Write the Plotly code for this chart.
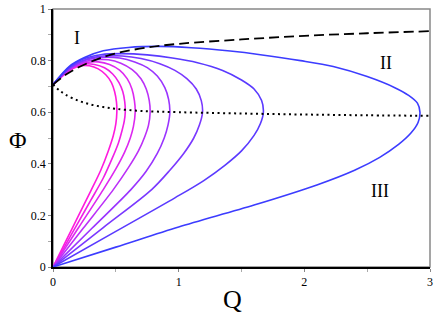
import plotly.graph_objects as go

# Q / Phi data, one list pair per curve
# each curve: lower branch from origin, turn near the dotted line, upper branch back to (0, 0.707)
q_1 = [0, 0.1, 0.2, 0.3, 0.38, 0.44, 0.48, 0.5, 0.508, 0.505, 0.49, 0.465, 0.42, 0.36, 0.29, 0.22, 0.15, 0.08, 0]
phi_1 = [0, 0.098, 0.196, 0.294, 0.375, 0.45, 0.51, 0.555, 0.60, 0.64, 0.68, 0.715, 0.745, 0.768, 0.78, 0.78, 0.767, 0.742, 0.707]

q_2 = [0, 0.1, 0.2, 0.3, 0.4, 0.47, 0.52, 0.55, 0.567, 0.575, 0.571, 0.555, 0.525, 0.475, 0.41, 0.33, 0.25, 0.17, 0.09, 0]
phi_2 = [0, 0.086, 0.172, 0.258, 0.345, 0.42, 0.48, 0.53, 0.565, 0.60, 0.64, 0.68, 0.715, 0.748, 0.772, 0.785, 0.787, 0.775, 0.748, 0.707]

q_3 = [0, 0.2, 0.4, 0.5, 0.57, 0.615, 0.64, 0.654, 0.648, 0.628, 0.59, 0.53, 0.45, 0.36, 0.27, 0.18, 0.09, 0]
phi_3 = [0, 0.15, 0.30, 0.38, 0.445, 0.5, 0.545, 0.60, 0.645, 0.69, 0.73, 0.763, 0.785, 0.795, 0.793, 0.78, 0.75, 0.707]

q_4 = [0, 0.24, 0.48, 0.6, 0.68, 0.73, 0.76, 0.773, 0.766, 0.742, 0.7, 0.63, 0.54, 0.44, 0.33, 0.22, 0.11, 0]
phi_4 = [0, 0.15, 0.30, 0.385, 0.45, 0.505, 0.55, 0.60, 0.645, 0.69, 0.73, 0.765, 0.79, 0.803, 0.803, 0.79, 0.76, 0.707]

q_5 = [0, 0.31, 0.62, 0.74, 0.83, 0.885, 0.915, 0.93, 0.92, 0.89, 0.83, 0.75, 0.65, 0.53, 0.4, 0.27, 0.14, 0]
phi_5 = [0, 0.15, 0.30, 0.37, 0.44, 0.5, 0.55, 0.60, 0.65, 0.695, 0.74, 0.773, 0.795, 0.81, 0.813, 0.803, 0.772, 0.707]

q_6 = [0, 0.4, 0.785, 0.93, 1.04, 1.12, 1.165, 1.19, 1.18, 1.14, 1.065, 0.97, 0.85, 0.7, 0.55, 0.4, 0.27, 0.14, 0]
phi_6 = [0, 0.153, 0.30, 0.375, 0.44, 0.5, 0.55, 0.60, 0.645, 0.69, 0.73, 0.762, 0.788, 0.808, 0.818, 0.818, 0.806, 0.775, 0.707]

q_7 = [0, 0.5, 0.97, 1.2, 1.37, 1.5, 1.6, 1.65, 1.674, 1.66, 1.6, 1.5, 1.35, 1.15, 0.95, 0.75, 0.55, 0.38, 0.25, 0.13, 0]
phi_7 = [0, 0.138, 0.268, 0.335, 0.395, 0.45, 0.51, 0.555, 0.60, 0.645, 0.69, 0.725, 0.762, 0.792, 0.81, 0.822, 0.827, 0.823, 0.808, 0.775, 0.707]

q_8 = [0, 0.5, 1.0, 1.6, 2.1, 2.4, 2.6, 2.75, 2.85, 2.905, 2.92, 2.9, 2.83, 2.72, 2.5, 2.23, 1.97,
       1.65, 1.41, 1.1, 0.85, 0.6, 0.4, 0.25, 0.13, 0]
phi_8 = [0, 0.077, 0.155, 0.24, 0.318, 0.375, 0.425, 0.475, 0.52, 0.56, 0.60, 0.635, 0.665, 0.695, 0.738, 0.777, 0.80,
         0.823, 0.837, 0.85, 0.855, 0.851, 0.838, 0.812, 0.778, 0.707]

# dashed and dotted boundaries
q_dash = [0, 0.1, 0.2, 0.35, 0.5, 0.75, 1.0, 1.5, 2.0, 2.5, 3.0]
phi_dash = [0.707, 0.745, 0.773, 0.805, 0.828, 0.851, 0.865, 0.882, 0.896, 0.906, 0.914]

q_dot = [0, 0.05, 0.1, 0.2, 0.3, 0.4, 0.5, 0.7, 1.0, 1.5, 2.0, 2.5, 3.0]
phi_dot = [0.707, 0.685, 0.668, 0.645, 0.630, 0.620, 0.613, 0.605, 0.600, 0.595, 0.591, 0.588, 0.586]

curves = [(q_1, phi_1), (q_2, phi_2), (q_3, phi_3), (q_4, phi_4),
          (q_5, phi_5), (q_6, phi_6), (q_7, phi_7), (q_8, phi_8)]
colors = ['#ff1add', '#f020e6', '#dd28f0', '#bb30f8', '#9a34ff', '#7a38ff', '#5a3aff', '#3c3cff']

region_labels = ['I', 'II', 'III']
region_q = [0.19, 2.65, 2.6]
region_phi = [0.887, 0.79, 0.293]

SERIF = 'Liberation Serif, Times New Roman, serif'

# plot area in page pixels
L, R, T, B = 53, 430, 9, 267.5
W, H = 436, 321

fig = go.Figure()

for (q, phi), c in zip(curves, colors):
    fig.add_trace(go.Scatter(x=q, y=phi, mode='lines',
                             line=dict(color=c, width=1.6, shape='spline', smoothing=0.9),
                             hoverinfo='skip', showlegend=False))

fig.add_trace(go.Scatter(x=q_dash, y=phi_dash, mode='lines',
                         line=dict(color='black', width=1.8, dash='10px,5px', shape='spline'),
                         hoverinfo='skip', showlegend=False))
fig.add_trace(go.Scatter(x=q_dot, y=phi_dot, mode='lines',
                         line=dict(color='black', width=2, dash='2px,3.5px', shape='spline'),
                         hoverinfo='skip', showlegend=False))

# region labels
for t, xq, yp in zip(region_labels, region_q, region_phi):
    fig.add_annotation(x=xq, y=yp, text=t, showarrow=False, xanchor='center', yanchor='middle',
                       font=dict(family=SERIF, size=18, color='black'))

# axis titles placed by pixel position
def px(x, y):
    return (x - L) / (R - L), (B - y) / (B - T)

for t, (ax, ay), size in [('Φ', px(18, 140), 24), ('Q', px(232, 300), 26)]:
    fig.add_annotation(x=ax, y=ay, xref='paper', yref='paper', text=t, showarrow=False,
                       xanchor='center', yanchor='middle',
                       font=dict(family=SERIF, size=size, color='black'))

# gray frame (top / right)
fig.add_shape(type='rect', xref='paper', yref='paper', x0=0, y0=0, x1=1, y1=1,
              line=dict(color='#888888', width=1.5), layer='below')

tick_font = dict(family=SERIF, size=12, color='black')
fig.update_layout(
    width=W, height=H,
    margin=dict(l=L, r=W - R, t=T, b=H - B, autoexpand=False),
    plot_bgcolor='white', paper_bgcolor='white',
    font=dict(family=SERIF, size=12, color='black'),
    xaxis=dict(range=[0, 3], showgrid=False, zeroline=False, automargin=False,
               showline=True, linecolor='black', linewidth=1.8, tickfont=tick_font,
               tickvals=[0, 1, 2, 3], ticks='outside', ticklen=3, tickcolor='#888888',
               minor=dict(tickvals=[0.5, 1.5, 2.5], ticks='outside', ticklen=3, tickcolor='#aaaaaa')),
    yaxis=dict(range=[0, 1], showgrid=False, zeroline=False, automargin=False,
               showline=True, linecolor='black', linewidth=1.8, tickfont=tick_font,
               tickvals=[0, 0.2, 0.4, 0.6, 0.8, 1], ticks='outside', ticklen=3, tickcolor='#888888',
               minor=dict(tickvals=[0.1, 0.3, 0.5, 0.7, 0.9], ticks='outside', ticklen=3, tickcolor='#aaaaaa')),
)

# drop the default 8px page margin so the figure sits at the window corner
fig.write_html("out.html", config={'displayModeBar': False},
               post_script="document.body.style.margin='0';")
